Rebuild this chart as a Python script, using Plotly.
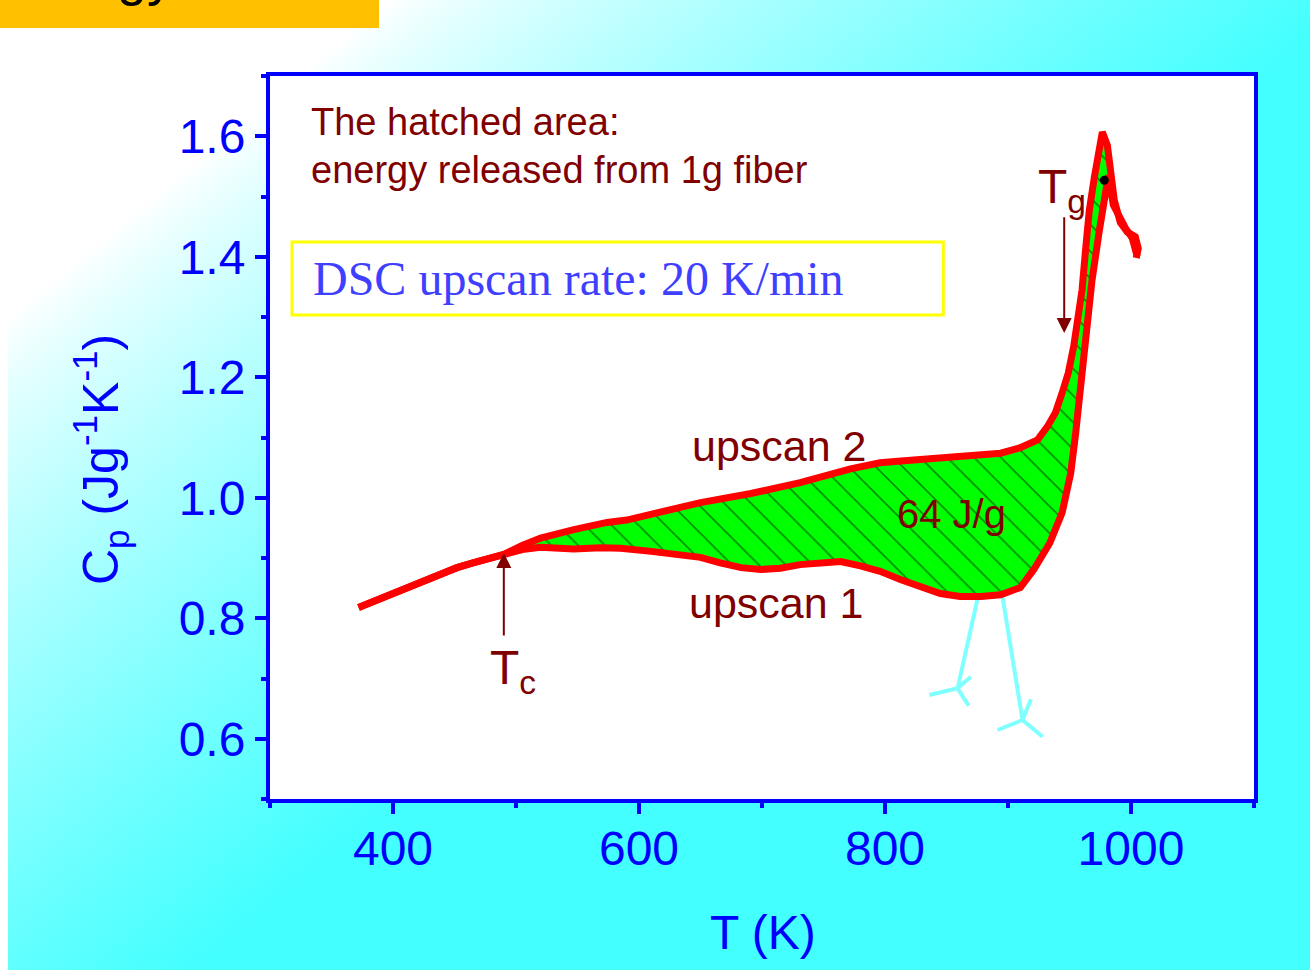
import base64
import struct
import zlib

import numpy as np
import plotly.graph_objects as go

# ---------------- data ----------------
# shared low-temperature part of both upscans (up to Tc)
common_T = [372, 385, 400, 412, 425, 440, 452, 465, 474, 490]
common_Cp = [0.818, 0.829, 0.842, 0.850, 0.862, 0.874, 0.884, 0.892, 0.897, 0.906]

# upscan 2 (upper curve) from Tc on
upscan2_T = [490, 505, 520, 547, 574, 590, 615, 650, 691, 731, 772, 796, 813, 853,
             894, 910, 924, 932, 938.5, 944, 949, 953.4, 956.6, 960.2, 963, 966.1,
             970.2, 973.4, 976.7, 980.8, 984, 986.4, 991.3, 997, 1003.5, 1005.9, 1004.3]
upscan2_Cp = [0.906, 0.921, 0.933, 0.947, 0.959, 0.963, 0.975, 0.992, 1.007, 1.025,
              1.048, 1.058, 1.061, 1.068, 1.074, 1.083, 1.096, 1.118, 1.141, 1.174,
              1.207, 1.251, 1.295, 1.345, 1.410, 1.477, 1.532, 1.577, 1.607, 1.585,
              1.527, 1.494, 1.457, 1.441, 1.433, 1.414, 1.398]

# upscan 1 (lower curve) from Tc on
upscan1_T = [490, 505, 520, 547, 569, 585, 610, 634, 650, 666, 683, 699, 715, 731,
             748, 764, 780, 796, 813, 829, 845, 861, 878, 894, 899, 910, 921, 934,
             944, 951, 955, 959, 963, 965.6, 968.3, 974.3, 978.3, 981.6, 985.6,
             989.7, 995.4, 1001, 1005]
upscan1_Cp = [0.906, 0.914, 0.918, 0.915, 0.917, 0.916, 0.911, 0.906, 0.901, 0.892,
              0.884, 0.881, 0.883, 0.889, 0.892, 0.894, 0.887, 0.878, 0.864, 0.853,
              0.841, 0.836, 0.836, 0.839, 0.842, 0.851, 0.881, 0.925, 0.975, 1.041,
              1.107, 1.185, 1.262, 1.317, 1.361, 1.444, 1.502, 1.535, 1.486, 1.469,
              1.448, 1.431, 1.401]

# points where the two curves merge near the peak (end of hatched area)
merge_T_upscan2 = 984
merge_T_upscan1 = 981.6

# black dot on the peak
dot_T = [978.3]
dot_Cp = [1.527]

# light-cyan pointer lines below the curve (None separates strokes)
cyan_T = [875.9, 859.0, None, 859.0, 836.1, None, 859.0, 869.9, None, 859.0, 868.0, None,
          895.1, 911.8, None, 911.8, 891.5, None, 911.8, 928.1, None, 911.8, 918.7]
cyan_Cp = [0.8386, 0.6837, None, 0.6837, 0.6727, None, 0.6837, 0.703, None, 0.6837, 0.6549, None,
           0.8414, 0.6311, None, 0.6311, 0.6145, None, 0.6311, 0.6034, None, 0.6311, 0.6655]

# Tc / Tg arrows (tip, tail)
Tc_T, Tc_tip_Cp, Tc_tail_Cp = 490.1, 0.9083, 0.7689
Tg_T, Tg_tip_Cp, Tg_tail_Cp = 945.7, 1.2734, 1.468

x_range = [300, 1100]
y_range = [0.5, 1.7]

# ---------------- styling ----------------
W, H = 1310, 970
ML, MR, MT, MB = 270, 56, 76, 171
PW, PH = W - ML - MR, H - MT - MB
BLUE = "#0000FF"
DARKRED = "#800000"
SANS = "Arial, Liberation Sans, sans-serif"
SERIF = "Times New Roman, Liberation Serif, serif"


def gradient_png():
    yy, xx = np.mgrid[0:H, 0:W].astype(float)
    u = 0.833 * xx + yy
    t = np.clip((u - 325.0) / 800.0, 0, 1) ** 0.8
    r = 255 - (255 - 68) * t
    img = np.empty((H, W, 3), np.uint8)
    img[..., 0] = np.round(r).astype(np.uint8)
    img[..., 1] = 255
    img[..., 2] = 255
    img[28:, :8] = 255
    img[MT:H - MB, ML:W - MR] = 255
    a = img.astype(np.int16)
    f = a.copy()
    f[:, 1:, :] = a[:, 1:, :] - a[:, :-1, :]
    f = (f % 256).astype(np.uint8).reshape(H, W * 3)
    raw = np.hstack([np.ones((H, 1), np.uint8), f]).tobytes()

    def chunk(tag, data):
        return (struct.pack(">I", len(data)) + tag + data +
                struct.pack(">I", zlib.crc32(tag + data) & 0xFFFFFFFF))

    png = (b"\x89PNG\r\n\x1a\n" +
           chunk(b"IHDR", struct.pack(">IIBBBBB", W, H, 8, 2, 0, 0, 0)) +
           chunk(b"IDAT", zlib.compress(raw, 9)) + chunk(b"IEND", b""))
    return "data:image/png;base64," + base64.b64encode(png).decode()


def px_x(p):
    return (p - ML) / PW


def px_y(p):
    return 1 - (p - MT) / PH


# ---------------- traces ----------------
i2 = upscan2_T.index(merge_T_upscan2)
i1 = upscan1_T.index(merge_T_upscan1)
fill_T = upscan2_T[:i2 + 1] + upscan1_T[i1::-1]
fill_Cp = upscan2_Cp[:i2 + 1] + upscan1_Cp[i1::-1]

fig = go.Figure()
fig.add_trace(go.Scatter(
    x=fill_T, y=fill_Cp, mode="lines", fill="toself", line=dict(width=0),
    fillcolor="#00FF00",
    fillpattern=dict(shape="\\", bgcolor="#00FF00", fgcolor="black", size=19, solidity=0.08),
    hoverinfo="skip"))
fig.add_trace(go.Scatter(x=cyan_T, y=cyan_Cp, mode="lines",
                         line=dict(color="#80FFFF", width=4), hoverinfo="skip"))
fig.add_trace(go.Scatter(x=common_T + upscan1_T[1:], y=common_Cp + upscan1_Cp[1:],
                         mode="lines", name="upscan 1",
                         line=dict(color="#FF0000", width=7)))
fig.add_trace(go.Scatter(x=common_T + upscan2_T[1:], y=common_Cp + upscan2_Cp[1:],
                         mode="lines", name="upscan 2",
                         line=dict(color="#FF0000", width=7)))
fig.add_trace(go.Scatter(x=dot_T, y=dot_Cp, mode="markers",
                         marker=dict(color="black", size=9)))

axis_common = dict(
    ticks="outside", ticklen=11, tickwidth=4, tickcolor=BLUE,
    showline=True, linewidth=4, linecolor=BLUE, mirror=True,
    showgrid=False, zeroline=False,
    tickfont=dict(family=SANS, size=48, color=BLUE),
)
fig.update_xaxes(range=x_range, tick0=0, dtick=200, ticklabelstandoff=-7,
                 minor=dict(tick0=0, dtick=100, ticks="outside", ticklen=5,
                            tickwidth=4, tickcolor=BLUE, showgrid=False),
                 **axis_common)
fig.update_yaxes(range=y_range, tick0=0, dtick=0.2, tickformat=".1f",
                 minor=dict(tick0=0, dtick=0.1, ticks="outside", ticklen=5,
                            tickwidth=4, tickcolor=BLUE, showgrid=False),
                 **axis_common)

ann = []


def txt(x, y, s, size, color=DARKRED, xanchor="center", family=SANS, **kw):
    ann.append(dict(x=x, y=y, text=s, showarrow=False, xanchor=xanchor, yanchor="middle",
                    font=dict(family=family, size=size, color=color), **kw))


txt(332.0, 1.6237, "The hatched area:", 38, xanchor="left")
txt(332.0, 1.544, "energy released from 1g fiber", 38, xanchor="left")
txt(714.2, 1.086, "upscan 2", 43)
txt(711.8, 0.8257, "upscan 1", 43)
txt(853.9, 0.973, "64 J/g", 40)
txt(497.4, 0.7124, "T<sub>c</sub>", 48)
txt(944.1, 1.511, "T<sub>g</sub>", 48)
txt(333.5, 1.3647, "DSC upscan rate: 20 K/min", 48, color="#3F3FFF", xanchor="left", family=SERIF)

# axis titles
txt(px_x(763), px_y(932), "T (K)", 48, color=BLUE, xref="paper", yref="paper")
txt(px_x(100), px_y(460), "C<sub>p</sub> (Jg<sup>-1</sup>K<sup>-1</sup>)", 50, color=BLUE,
    xref="paper", yref="paper", textangle=-90)

# partly cut-off slide title at the top (only descenders visible)
ann.append(dict(x=px_x(176), y=px_y(-24), xref="paper", yref="paper", text="Energy",
                showarrow=False, xanchor="right", yanchor="middle",
                font=dict(family=SANS, size=54, color="black")))

# arrows
for xt, tip, tail in [(Tc_T, Tc_tip_Cp, Tc_tail_Cp), (Tg_T, Tg_tip_Cp, Tg_tail_Cp)]:
    ann.append(dict(x=xt, y=tip, ax=xt, ay=tail, axref="x", ayref="y", text="",
                    showarrow=True, arrowhead=2, arrowsize=1.5, arrowwidth=2,
                    arrowcolor=DARKRED, standoff=0, startstandoff=0))

shapes = [
    dict(type="rect", xref="x", yref="y", x0=317.9, x1=847.4, y0=1.3033, y1=1.4245,
         line=dict(color="#FFFF00", width=3), fillcolor="white", layer="below"),
    dict(type="rect", xref="paper", yref="paper", x0=px_x(0), x1=px_x(379),
         y0=px_y(28), y1=px_y(-20), line=dict(width=0), fillcolor="#FFC000", layer="below"),
]

fig.update_layout(
    width=W, height=H, autosize=False,
    margin=dict(l=ML, r=MR, t=MT, b=MB, pad=0),
    paper_bgcolor="white", plot_bgcolor="white",
    showlegend=False,
    annotations=ann, shapes=shapes,
    images=[dict(source=gradient_png(), xref="paper", yref="paper",
                 x=px_x(0), y=px_y(0), sizex=W / PW, sizey=H / PH,
                 xanchor="left", yanchor="top", sizing="stretch", layer="below")],
)

fig.write_html("out.html", config={"displayModeBar": False},
               post_script="document.body.style.margin='0';document.body.style.overflow='hidden';")
